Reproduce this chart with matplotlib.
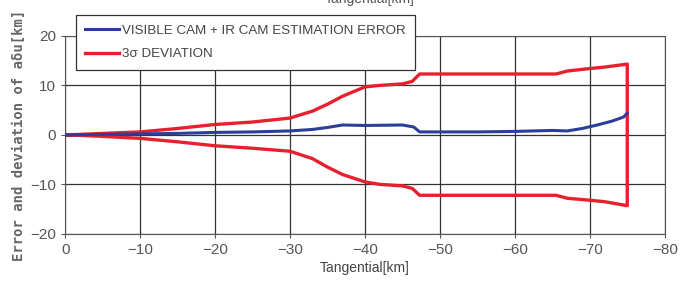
# Estimation error vs 3-sigma deviation along tangential distance

import numpy as np
import matplotlib.pyplot as plt

plt.rcParams['font.family'] = ['Liberation Sans', 'DejaVu Sans']

# Values
x_sigma = [0, -2, -5, -10, -15, -20, -25, -30, -33, -35, -37, -40, -42, -45, -46.3, -47.3,
           -55, -65.5, -67, -70, -72, -75]
sigma_upper = [0, 0.1, 0.3, 0.6, 1.3, 2.1, 2.6, 3.4, 4.8, 6.2, 7.8, 9.7, 10.0, 10.3, 10.8, 12.3,
               12.3, 12.3, 12.9, 13.4, 13.7, 14.3]
sigma_lower = [0, -0.1, -0.3, -0.7, -1.4, -2.2, -2.7, -3.3, -4.8, -6.5, -8.0, -9.5, -10.0, -10.3,
               -10.8, -12.2, -12.2, -12.2, -12.8, -13.2, -13.5, -14.3]

x_err = [0, -5, -10, -15, -20, -25, -30, -33, -35, -37, -40, -45, -46.5, -47.3, -55, -60, -65,
         -67, -69, -71, -73, -74.5, -75]
err = [0, 0.1, 0.2, 0.3, 0.5, 0.6, 0.8, 1.1, 1.5, 2.0, 1.9, 2.0, 1.6, 0.6, 0.6, 0.7, 0.9,
       0.8, 1.3, 2.0, 2.8, 3.6, 4.4]

# red curve drawn as one closed loop: upper branch out, lower branch back
x_loop = x_sigma + x_sigma[::-1]
y_loop = sigma_upper + sigma_lower[::-1]

fig = plt.figure(figsize=(6.79, 2.87), dpi=100)
ax = fig.add_axes([0.096, 0.185, 0.883, 0.69])

ax.plot(x_err, err, color="#2b3f9a", lw=2.2, label="VISIBLE CAM + IR CAM ESTIMATION ERROR", zorder=3)
ax.plot(x_loop, y_loop, color="#e8202e", lw=2.4, label="3\u03c3 DEVIATION", zorder=2)

ax.set_xlim(0, -80)
ax.set_ylim(-20, 20)
ax.set_xticks(np.arange(0, -81, -10))
ax.set_yticks([-20, -10, 0, 10, 20])
ax.grid(True, color="#333333", lw=0.9)
ax.tick_params(colors="#555555", labelsize=11, length=3, width=0.8)
for s in ax.spines.values():
    s.set_color("#555555")

ax.set_xlabel("Tangential[km]", color="#444444", fontsize=10, labelpad=3)
ax.set_ylabel("Error and deviation of a\u03b4u[km]", color="#666666", fontsize=10,
              family=["DejaVu Sans Mono"], fontweight="bold", labelpad=3)

leg = fig.legend(loc="upper left", bbox_to_anchor=(0.112, 0.948), borderaxespad=0,
                 fontsize=9.6, frameon=True, fancybox=False, framealpha=1, edgecolor="#333333",
                 handlelength=2.5, handletextpad=0.25, borderpad=0.7, labelspacing=0.85)
leg.get_frame().set_linewidth(0.9)
for t in leg.get_texts():
    t.set_color("#444444")

# clipped caption at the very top edge
fig.text(0.545, 1.005, "Tangential[km]", color="#555555", fontsize=10, ha="center", va="center")

fig.savefig("out.png", dpi=100)
